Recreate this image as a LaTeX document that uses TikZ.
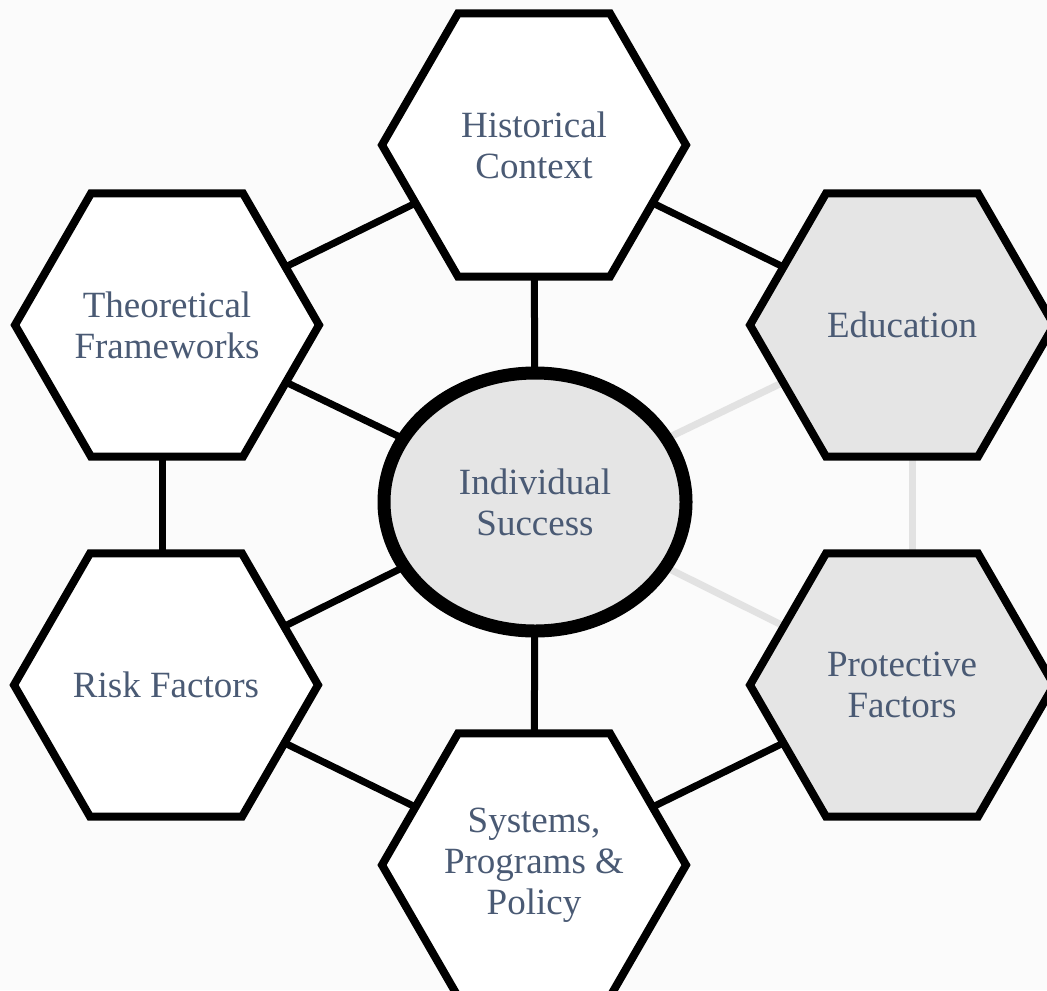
\documentclass[tikz,border=0pt]{standalone}
\usepackage{fontspec}
\setmainfont{Liberation Serif}
\usetikzlibrary{shapes.geometric,backgrounds}
\definecolor{labelblue}{RGB}{74,90,116}
\definecolor{hexgray}{RGB}{229,229,229}
\definecolor{linkgray}{RGB}{226,226,226}
\definecolor{pagegray}{RGB}{251,251,251}
\begin{document}
\begin{tikzpicture}[x=0.5pt, y=0.5pt, yscale=-1, inner sep=0pt, outer sep=0pt,
  hexbox/.style={regular polygon, regular polygon sides=6, minimum size=152pt,
    draw=black, line width=4pt, fill=white, align=center, text=labelblue,
    font=\fontsize{18.5}{20.5}\selectfont},
  link/.style={draw=black, line width=3.5pt},
  softlink/.style={draw=linkgray, line width=3.5pt}]
  \useasboundingbox (0,0) rectangle (1047,990);
  % hexagons round the hub
  \node[hexbox] (hist) at (534,145) {Historical\\Context};
  \node[hexbox] (theo) at (167,325) {Theoretical\\Frameworks};
  \node[hexbox, fill=hexgray] (edu) at (902,325) {Education};
  \node[hexbox] (risk) at (166,685) {Risk Factors};
  \node[hexbox, fill=hexgray] (prot) at (902,685) {Protective\\Factors};
  \node[hexbox] (sys) at (534,865) {Systems,\\Programs \&\\Policy};
  % hub
  \node[ellipse, draw=black, line width=6.5pt, fill=hexgray, minimum width=151pt,
    minimum height=129pt, align=center, text=labelblue,
    font=\fontsize{18.5}{20.5}\selectfont] (ind) at (535,502) {Individual\\Success};
  \begin{scope}[on background layer]
    \path[fill=pagegray] (0,0) rectangle (1047,990);
    \path[link] (hist) -- (ind);
    \path[link] (hist) -- (theo);
    \path[link] (hist) -- (edu);
    \path[link] (theo) -- (ind);
    \path[link] ([xshift=-2.5pt]theo.center) -- ([xshift=-2pt]risk.center);
    \path[link] (risk) -- (ind);
    \path[link] (risk) -- (sys);
    \path[link] (sys) -- (ind);
    \path[link] (sys) -- (prot);
    \path[softlink] (edu) -- (ind);
    \path[softlink] (prot) -- (ind);
    \path[softlink] ([xshift=5pt]edu.center) -- ([xshift=5pt]prot.center);
  \end{scope}
\end{tikzpicture}
\end{document}
